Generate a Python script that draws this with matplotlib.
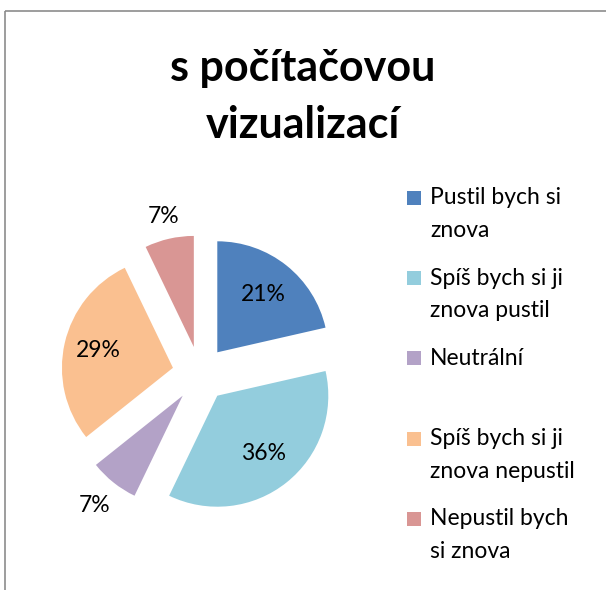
import numpy as np
import matplotlib
matplotlib.use("agg")
import matplotlib.pyplot as plt
from matplotlib.patches import Rectangle

plt.rcParams["font.family"] = ["Lato", "DejaVu Sans"]

title_lines = ["s počítačovou", "vizualizací"]
categories = [["Pustil bych si", "znova"], ["Spíš bych si ji", "znova pustil"],
              ["Neutrální"], ["Spíš bych si ji", "znova nepustil"],
              ["Nepustil bych", "si znova"]]
counts = [3, 5, 1, 4, 1]
colors = ["#4F81BD", "#93CDDD", "#B3A2C7", "#FAC090", "#D99694"]
# how far each percentage sits from the wedge tip (fraction of radius)
label_dist = [0.67, 0.67, 1.27, 0.69, 1.21]

fig = plt.figure(figsize=(6.06, 5.9), dpi=100)
ax = fig.add_axes([0, 0, 1, 1])

# axes in pixel units, y pointing down like the picture
center = (200, 374)
radius = 111
wedges, _ = ax.pie(counts, colors=colors, explode=[0.25 * radius] * len(counts),
                   radius=radius, center=center, startangle=-90,
                   counterclock=True, wedgeprops=dict(linewidth=0))
ax.set_xlim(0, 606)
ax.set_ylim(590, 0)
ax.set_aspect("equal")
ax.axis("off")

total = sum(counts)
for w, c, d in zip(wedges, counts, label_dist):
    th = np.deg2rad(0.5 * (w.theta1 + w.theta2))
    cx, cy = w.center
    ax.text(cx + d * radius * np.cos(th), cy + d * radius * np.sin(th),
            "%d%%" % round(100.0 * c / total), ha="center", va="center",
            fontsize=16.5, color="black")

# chart frame, only top and left edges are inside the picture
ax.add_patch(Rectangle((5, 11), 800, 800, fill=False, edgecolor="#8C8C8C",
                       lw=1.2, zorder=0, clip_on=True))

for k, line in enumerate(title_lines):
    ax.text(303, 68 + k * 57, line, ha="center", va="center", fontsize=31,
            fontweight="bold")

# legend: marker aligned with first line of each entry, two lines per slot
for i, (lab, col) in enumerate(zip(categories, colors)):
    y = 198 + i * 80.2
    ax.add_patch(Rectangle((407, y - 7), 14, 14, facecolor=col, lw=0))
    for k, line in enumerate(lab):
        ax.text(430, y + k * 32.5, line, ha="left", va="center", fontsize=16.5)

plt.savefig("out.png", dpi=100)
